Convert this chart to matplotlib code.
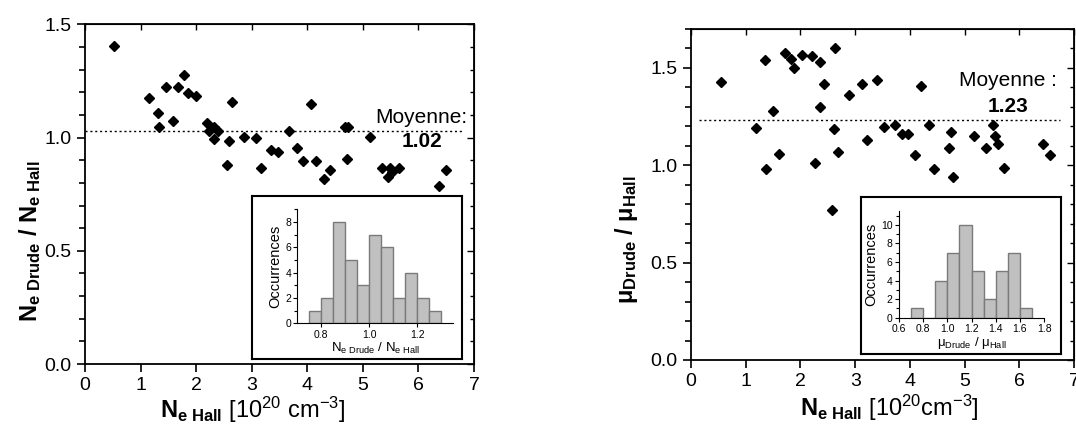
import matplotlib
matplotlib.use("Agg")
import matplotlib.pyplot as plt
from matplotlib.ticker import MultipleLocator
import numpy as np

plt.rcParams['font.family'] = ['Liberation Sans', 'DejaVu Sans']
plt.rcParams['mathtext.fontset'] = 'custom'
plt.rcParams['mathtext.rm'] = 'Liberation Sans'
plt.rcParams['mathtext.bf'] = 'Liberation Sans:bold'
plt.rcParams['mathtext.it'] = 'Liberation Sans:italic'

# --- left panel: N Drude / N Hall vs N Hall
n_hall = [0.52, 1.15, 1.31, 1.34, 1.46, 1.59, 1.68, 1.79, 1.86, 2.00, 2.19, 2.23, 2.32,
          2.39, 2.33, 2.59, 2.56, 2.65, 2.86, 3.07, 3.17, 3.34, 3.48, 3.68, 3.81, 3.93,
          4.06, 4.16, 4.30, 4.40, 4.67, 4.74, 4.71, 5.12, 5.34, 5.48, 5.45, 5.53, 5.65,
          6.37, 6.50]
n_ratio = [1.405, 1.175, 1.107, 1.045, 1.225, 1.075, 1.225, 1.276, 1.195, 1.185, 1.066,
           1.028, 1.045, 1.028, 0.996, 0.987, 0.877, 1.156, 1.004, 0.997, 0.868, 0.947,
           0.937, 1.028, 0.956, 0.897, 1.147, 0.897, 0.816, 0.856, 1.047, 1.047, 0.906,
           1.004, 0.868, 0.868, 0.828, 0.847, 0.868, 0.787, 0.856]
n_mean = 1.028
n_mean_label = "1.02"
n_hist_left = [0.75, 0.80, 0.85, 0.90, 0.95, 1.00, 1.05, 1.10, 1.15, 1.20, 1.25]
n_hist_counts = [1, 2, 8, 5, 3, 7, 6, 2, 4, 2, 1]

# --- right panel: mu Drude / mu Hall vs N Hall
m_hall = [0.55, 1.18, 1.35, 1.37, 1.50, 1.61, 1.71, 1.82, 1.89, 2.03, 2.22, 2.26, 2.36,
          2.36, 2.43, 2.63, 2.61, 2.69, 2.58, 2.89, 3.12, 3.21, 3.39, 3.52, 3.72, 3.86,
          3.97, 4.10, 4.21, 4.35, 4.44, 4.72, 4.76, 4.79, 5.17, 5.39, 5.52, 5.55, 5.61,
          5.72, 6.44, 6.56]
m_ratio = [1.427, 1.19, 1.538, 0.979, 1.279, 1.058, 1.578, 1.547, 1.499, 1.568, 1.561,
           1.009, 1.530, 1.299, 1.419, 1.60, 1.188, 1.068, 0.77, 1.359, 1.419, 1.128,
           1.439, 1.198, 1.209, 1.159, 1.159, 1.05, 1.409, 1.209, 0.979, 1.089, 1.169,
           0.94, 1.149, 1.089, 1.209, 1.149, 1.109, 0.988, 1.109, 1.05]
m_mean = 1.234
m_mean_label = "1.23"
m_hist_left = [0.7, 0.8, 0.9, 1.0, 1.1, 1.2, 1.3, 1.4, 1.5, 1.6]
m_hist_counts = [1, 0, 4, 7, 10, 5, 2, 5, 7, 1]

fig = plt.figure(figsize=(10.76, 4.25), dpi=100)


def main_axes(rect, ymax):
    ax = fig.add_axes(rect)
    ax.set_xlim(0, 7)
    ax.set_ylim(0, ymax)
    ax.xaxis.set_major_locator(MultipleLocator(1))
    ax.yaxis.set_major_locator(MultipleLocator(0.5))
    ax.yaxis.set_minor_locator(MultipleLocator(0.1))
    ax.yaxis.set_major_formatter(matplotlib.ticker.FormatStrFormatter('%.1f'))
    ax.tick_params(which='both', direction='out', labelsize=14, width=1.2)
    ax.tick_params(which='major', length=6)
    ax.tick_params(which='minor', length=4)
    for s in ax.spines.values():
        s.set_linewidth(1.3)
    top = ax.secondary_xaxis('top')
    top.xaxis.set_major_locator(MultipleLocator(1))
    top.tick_params(direction='in', length=4, width=1, labeltop=False)
    right = ax.secondary_yaxis('right')
    right.yaxis.set_major_locator(MultipleLocator(0.5))
    right.yaxis.set_minor_locator(MultipleLocator(0.1))
    right.tick_params(which='both', direction='in', width=1, labelright=False)
    right.tick_params(which='major', length=5)
    right.tick_params(which='minor', length=3)
    return ax


def inset(frame_rect, hist_rect, lefts, counts, width, xlim, xticks, ylim, ymaj, xlabel, fs):
    fr = fig.add_axes(frame_rect)
    fr.set_xticks([])
    fr.set_yticks([])
    for s in fr.spines.values():
        s.set_linewidth(1.5)
    h = fig.add_axes(hist_rect)
    h.bar(lefts, counts, width=width, align='edge', color='#c0c0c0',
          edgecolor='#7a7a7a', linewidth=1)
    h.set_xlim(*xlim)
    h.set_ylim(*ylim)
    h.set_xticks(xticks)
    h.xaxis.set_major_formatter(matplotlib.ticker.FormatStrFormatter('%.1f'))
    h.yaxis.set_major_locator(MultipleLocator(ymaj))
    h.yaxis.set_minor_locator(MultipleLocator(ymaj / 2))
    h.spines['top'].set_visible(False)
    h.spines['right'].set_visible(False)
    h.tick_params(which='both', direction='out', labelsize=fs, width=0.8, pad=1.5)
    h.tick_params(which='major', length=3)
    h.tick_params(which='minor', length=2)
    h.set_ylabel('Occurrences', fontsize=fs + 3, labelpad=2)
    h.set_xlabel(xlabel, fontsize=fs + 2, labelpad=1)
    return h


# left
ax1 = main_axes([0.079, 0.1435, 0.3615, 0.799], 1.5)
ax1.plot(n_hall, n_ratio, 'D', color='black', ms=5.2)
ax1.plot([0, 6.8], [n_mean, n_mean], color='black', lw=1, linestyle=(0, (1.5, 2)))
ax1.text(6.88, 1.09, 'Moyenne:', fontsize=15, ha='right', va='center')
ax1.text(6.06, 0.985, n_mean_label, fontsize=15, fontweight='bold', ha='center', va='center')
ax1.set_xlabel(r'$\mathbf{N}_{\mathbf{e\ Hall}}$ [10$^{20}$ cm$^{-3}$]', fontsize=17)
ax1.xaxis.set_label_coords(0.43, -0.092)
ax1.set_ylabel(r'$\mathbf{N}_{\mathbf{e\ Drude}}\ \mathbf{/\ N}_{\mathbf{e\ Hall}}$', fontsize=17)
ax1.yaxis.set_label_coords(-0.108, 0.36)

inset([0.2342, 0.1553, 0.195, 0.3835], [0.2763, 0.2393, 0.145, 0.268],
      n_hist_left, n_hist_counts, 0.05, (0.7, 1.35), [0.8, 1.0, 1.2], (0, 9), 2,
      r'N$_{\mathrm{e\ Drude}}$ / N$_{\mathrm{e\ Hall}}$', 7.5)

# right
ax2 = main_axes([0.6422, 0.153, 0.356, 0.779], 1.7)
ax2.plot(m_hall, m_ratio, 'D', color='black', ms=5.2)
ax2.plot([0.15, 6.75], [m_mean, m_mean], color='black', lw=1, linestyle=(0, (1.5, 2)))
ax2.text(5.80, 1.436, 'Moyenne :', fontsize=15, ha='center', va='center')
ax2.text(5.80, 1.30, m_mean_label, fontsize=15, fontweight='bold', ha='center', va='center')
ax2.set_xlabel(r'$\mathbf{N}_{\mathbf{e\ Hall}}$ [10$^{20}$cm$^{-3}$]', fontsize=17)
ax2.xaxis.set_label_coords(0.517, -0.1)
ax2.set_ylabel(r'$\mathbf{μ}_{\mathbf{Drude}}\ \mathbf{/\ μ}_{\mathbf{Hall}}$', fontsize=17)
ax2.yaxis.set_label_coords(-0.133, 0.363)

inset([0.8002, 0.167, 0.1859, 0.369], [0.8355, 0.2525, 0.1348, 0.251],
      m_hist_left, m_hist_counts, 0.1, (0.6, 1.8), [0.6, 0.8, 1.0, 1.2, 1.4, 1.6, 1.8],
      (0, 11.5), 2, r'μ$_{\mathrm{Drude}}$ / μ$_{\mathrm{Hall}}$', 7.5)

fig.savefig('out.png', dpi=100)
